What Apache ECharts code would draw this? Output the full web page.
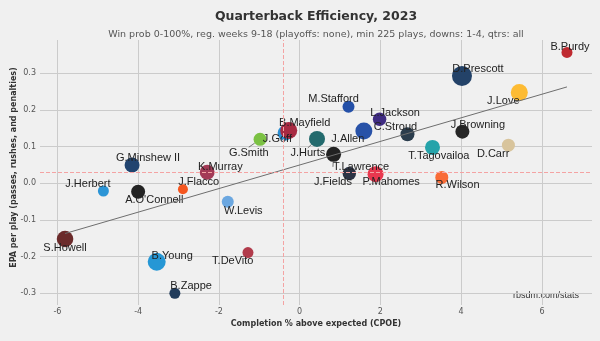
<!DOCTYPE html>
<html><head><meta charset="utf-8">
<script src="https://cdn.jsdelivr.net/npm/echarts@6/dist/echarts.min.js"></script>
<style>html,body{margin:0;padding:0;background:#f0f0f0}#c{width:600px;height:341px}</style>
</head><body><div id="c"></div><script>
const players = ['B.Purdy','D.Prescott','J.Love','M.Stafford','L.Jackson','J.Allen','C.Stroud','J.Goff','B.Mayfield','G.Smith','J.Hurts','J.Browning','T.Tagovailoa','D.Carr','T.Lawrence','J.Fields','P.Mahomes','R.Wilson','G.Minshew II','K.Murray','J.Herbert','J.Flacco',"A.O'Connell",'W.Levis','S.Howell','B.Young','T.DeVito','B.Zappe'];
const cpoe = [6.62,4.02,5.44,1.21,1.98,1.59,2.67,-0.36,-0.27,-0.98,0.43,4.03,3.29,5.17,0.84,1.23,1.88,3.52,-4.15,-2.29,-4.86,-2.89,-4.00,-1.78,-5.81,-3.54,-1.28,-3.09];
const epa = [0.357,0.293,0.248,0.209,0.175,0.143,0.134,0.137,0.144,0.120,0.121,0.141,0.098,0.104,0.079,0.027,0.025,0.016,0.050,0.030,-0.021,-0.016,-0.023,-0.050,-0.152,-0.214,-0.189,-0.300];
const plays = [253,460,391,276,310,391,322,345,391,299,368,322,345,299,345,310,368,299,345,345,253,230,322,276,380,414,253,253];
const teamColors = ['#bf2a30','#234268','#fdbb33','#2450a8','#3f2c82','#2852a8','#2b3d4d','#2a8fd3','#a82a42','#7bc143','#236a6d','#262626','#25a3aa','#d8c49c','#222222','#2c3345','#e9384f','#f96b36','#21446f','#a33a56','#2c95d6','#f5561f','#232323','#6ba7e0','#6b2b2b','#2697d5','#b13b4b','#213c5c'];
const labelOffsets = [[3,-5],[16,-7],[-16,8.5],[-15,-7.5],[15.5,-6.5],[-16,8.3],[-12,-7.3],[-7.7,6.3],[16,-8],[-11.3,13.4],[-9.2,14.5],[15.5,-6.4],[6.4,8.7],[-15.3,8.7],[27.5,12.5],[-16.3,8.2],[15.6,7.7],[15.8,8],[16,-7.3],[13.2,-5.6],[-15.5,-6.7],[15.8,-7.5],[16.2,8.3],[15.6,9],[0,8.5],[15.5,-6],[-15.2,8],[16.2,-7.3]];
const connectorLabels = ['G.Smith','J.Hurts','T.Lawrence'];
const trendX = [-5.81, 6.62];
const trendY = [-0.137, 0.263];
const meanCpoe = -0.40;
const meanEpa = 0.032;
const titleText = 'Quarterback Efficiency, 2023';
const subtitleText = 'Win prob 0-100%, reg. weeks 9-18 (playoffs: none), min 225 plays, downs: 1-4, qtrs: all';
const sourceText = 'rbsdm.com/stats';
const xName = 'Completion % above expected (CPOE)';
const yName = 'EPA per play (passes, rushes, and penalties)';

const grid = '#cbcbcb', none = 'rgba(0,0,0,0)';
const chart = echarts.init(document.getElementById('c'), null, {renderer:'canvas'});
const scatterData = players.map((p,i)=>{
  const d = {name:p, value:[cpoe[i], epa[i], plays[i]], itemStyle:{color:teamColors[i]}};
  if (connectorLabels.includes(p)) d.labelLine = {show:true, lineStyle:{color:'#555', width:0.8}};
  return d;
});
chart.setOption({
  backgroundColor:'#f0f0f0',
  animation:false,
  grid:{left:40, right:8, top:40, bottom:36, containLabel:false, outerBoundsMode:'none'},
  xAxis:{type:'value', min:-6.43, max:7.24, splitNumber:6,
    name:xName, nameLocation:'middle', nameGap:15, nameMoveOverlap:false,
    nameTextStyle:{fontFamily:'DejaVu Sans', fontWeight:'bold', fontSize:8, color:'#333'},
    axisLine:{show:false}, axisTick:{show:false},
    axisLabel:{showMinLabel:false, showMaxLabel:false, fontFamily:'DejaVu Sans', fontSize:8, color:'#555', margin:3},
    splitLine:{show:true, lineStyle:{color:[none,grid,grid,grid,grid,grid,grid,grid,none], width:1}}},
  yAxis:{type:'value', min:-0.332, max:0.391, splitNumber:7,
    name:yName, nameLocation:'middle', nameGap:22, nameMoveOverlap:false,
    nameTextStyle:{fontFamily:'DejaVu Sans', fontWeight:'bold', fontSize:8, color:'#333', padding:[0,0,0,10]},
    axisLine:{show:false}, axisTick:{show:false},
    axisLabel:{showMinLabel:false, showMaxLabel:false, fontFamily:'DejaVu Sans', fontSize:8, color:'#555', margin:4,
      formatter:v=>v.toFixed(1)},
    splitLine:{show:true, lineStyle:{color:[none,grid,grid,grid,grid,grid,grid,grid,none], width:1}}},
  series:[
    {type:'line', data:[], silent:true, z:1,
      markLine:{silent:true, symbol:'none', label:{show:false},
        lineStyle:{color:'#f4a3a3', type:[4,2], width:1},
        data:[{xAxis:meanCpoe},{yAxis:meanEpa}]}},
    {type:'scatter', z:2, data:scatterData,
      symbolSize:v=>v[2]/23,
      itemStyle:{opacity:1},
      label:{show:true, position:'inside', formatter:p=>p.name, color:'#222', fontSize:11, fontFamily:'Liberation Sans'},
      labelLayout:p=>({dx:labelOffsets[p.dataIndex][0], dy:labelOffsets[p.dataIndex][1]}),
      labelLine:{show:false},
      emphasis:{disabled:true}},
    {type:'line', z:3, data:trendX.map((x,i)=>[x,trendY[i]]), symbol:'none', silent:true,
      lineStyle:{color:'#6e6e6e', width:1}}
  ],
  graphic:[
    {type:'text', x:316, y:17, style:{text:titleText, font:'bold 12.5px "DejaVu Sans"', fill:'#333', align:'center', verticalAlign:'middle'}},
    {type:'text', x:316, y:35, style:{text:subtitleText, font:'9.5px "DejaVu Sans"', fill:'#555', align:'center', verticalAlign:'middle'}},
    {type:'text', x:579, y:296, style:{text:sourceText, font:'9px "Liberation Sans"', fill:'#333', align:'right', verticalAlign:'middle'}}
  ]
});
</script></body></html>
